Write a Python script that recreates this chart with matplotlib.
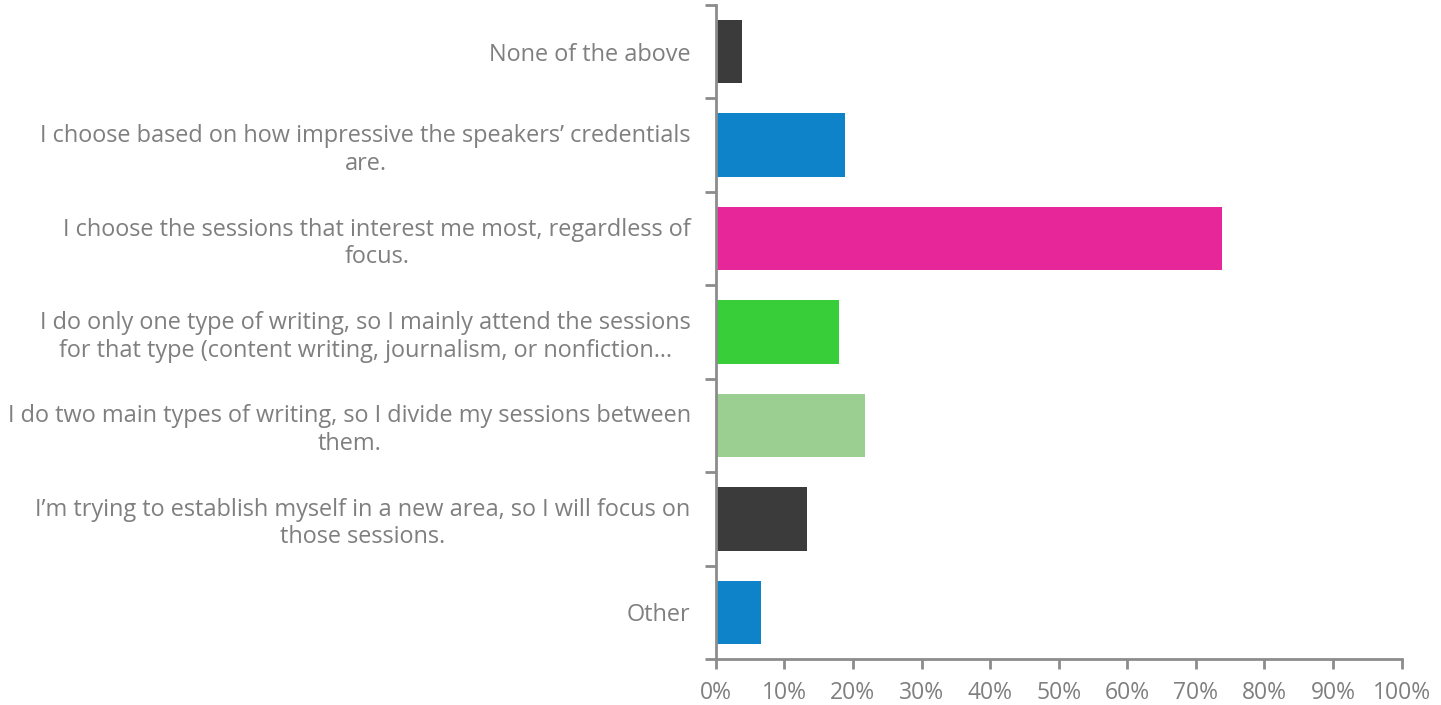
import matplotlib.pyplot as plt
from matplotlib.ticker import PercentFormatter

plt.rcParams['font.family'] = ['Open Sans', 'DejaVu Sans']

# answers, top to bottom
answers = [
    "None of the above",
    "I choose based on how impressive the speakers\u2019 credentials\nare.",
    "I choose the sessions that interest me most, regardless of\nfocus.",
    "I do only one type of writing, so I mainly attend the sessions\nfor that type (content writing, journalism, or nonfiction\u2026",
    "I do two main types of writing, so I divide my sessions between\nthem.",
    "I\u2019m trying to establish myself in a new area, so I will focus on\nthose sessions.",
    "Other",
]
shares = [3.8, 18.9, 73.8, 18.0, 21.8, 13.3, 6.6]
colors = ["#3b3b3b", "#0e83c9", "#e62699", "#38ce3a", "#9bcf92", "#3b3b3b", "#0e83c9"]
x_ticks = list(range(0, 101, 10))

text_grey = "#7f7f7f"
axis_grey = "#8c8c8c"

fig = plt.figure(figsize=(14.41, 7.05), dpi=100)
ax = fig.add_axes([0.4967, 0.0652, 0.9727 - 0.4967, 0.9929 - 0.0652])

pos = list(range(len(answers)))
ax.barh(pos, shares, height=0.68, color=colors)

ax.set_xlim(0, 100)
ax.set_ylim(len(answers) - 0.5, -0.5)
ax.set_xticks(x_ticks)
ax.xaxis.set_major_formatter(PercentFormatter(decimals=0))

# category boundaries carry the ticks, labels sit at the centres
ax.set_yticks([p - 0.5 for p in pos] + [len(answers) - 0.5])
ax.set_yticklabels([])
ax.set_yticks(pos, minor=True)
ax.set_yticklabels(answers, minor=True)
ax.tick_params(axis="y", which="minor", length=0, pad=18)
ax.tick_params(axis="y", which="major", length=8, width=2, color=axis_grey)
ax.tick_params(axis="x", length=7, width=2, color=axis_grey, labelsize=16.5,
               labelcolor=text_grey, pad=9)

for lab in ax.get_yticklabels(minor=True):
    lab.set_fontsize(16.9)
    lab.set_color(text_grey)
    lab.set_multialignment("center")
    lab.set_linespacing(1.2)

for side in ["top", "right"]:
    ax.spines[side].set_visible(False)
for side in ["left", "bottom"]:
    ax.spines[side].set_color(axis_grey)
    ax.spines[side].set_linewidth(2)

fig.savefig("out.png", dpi=100)
